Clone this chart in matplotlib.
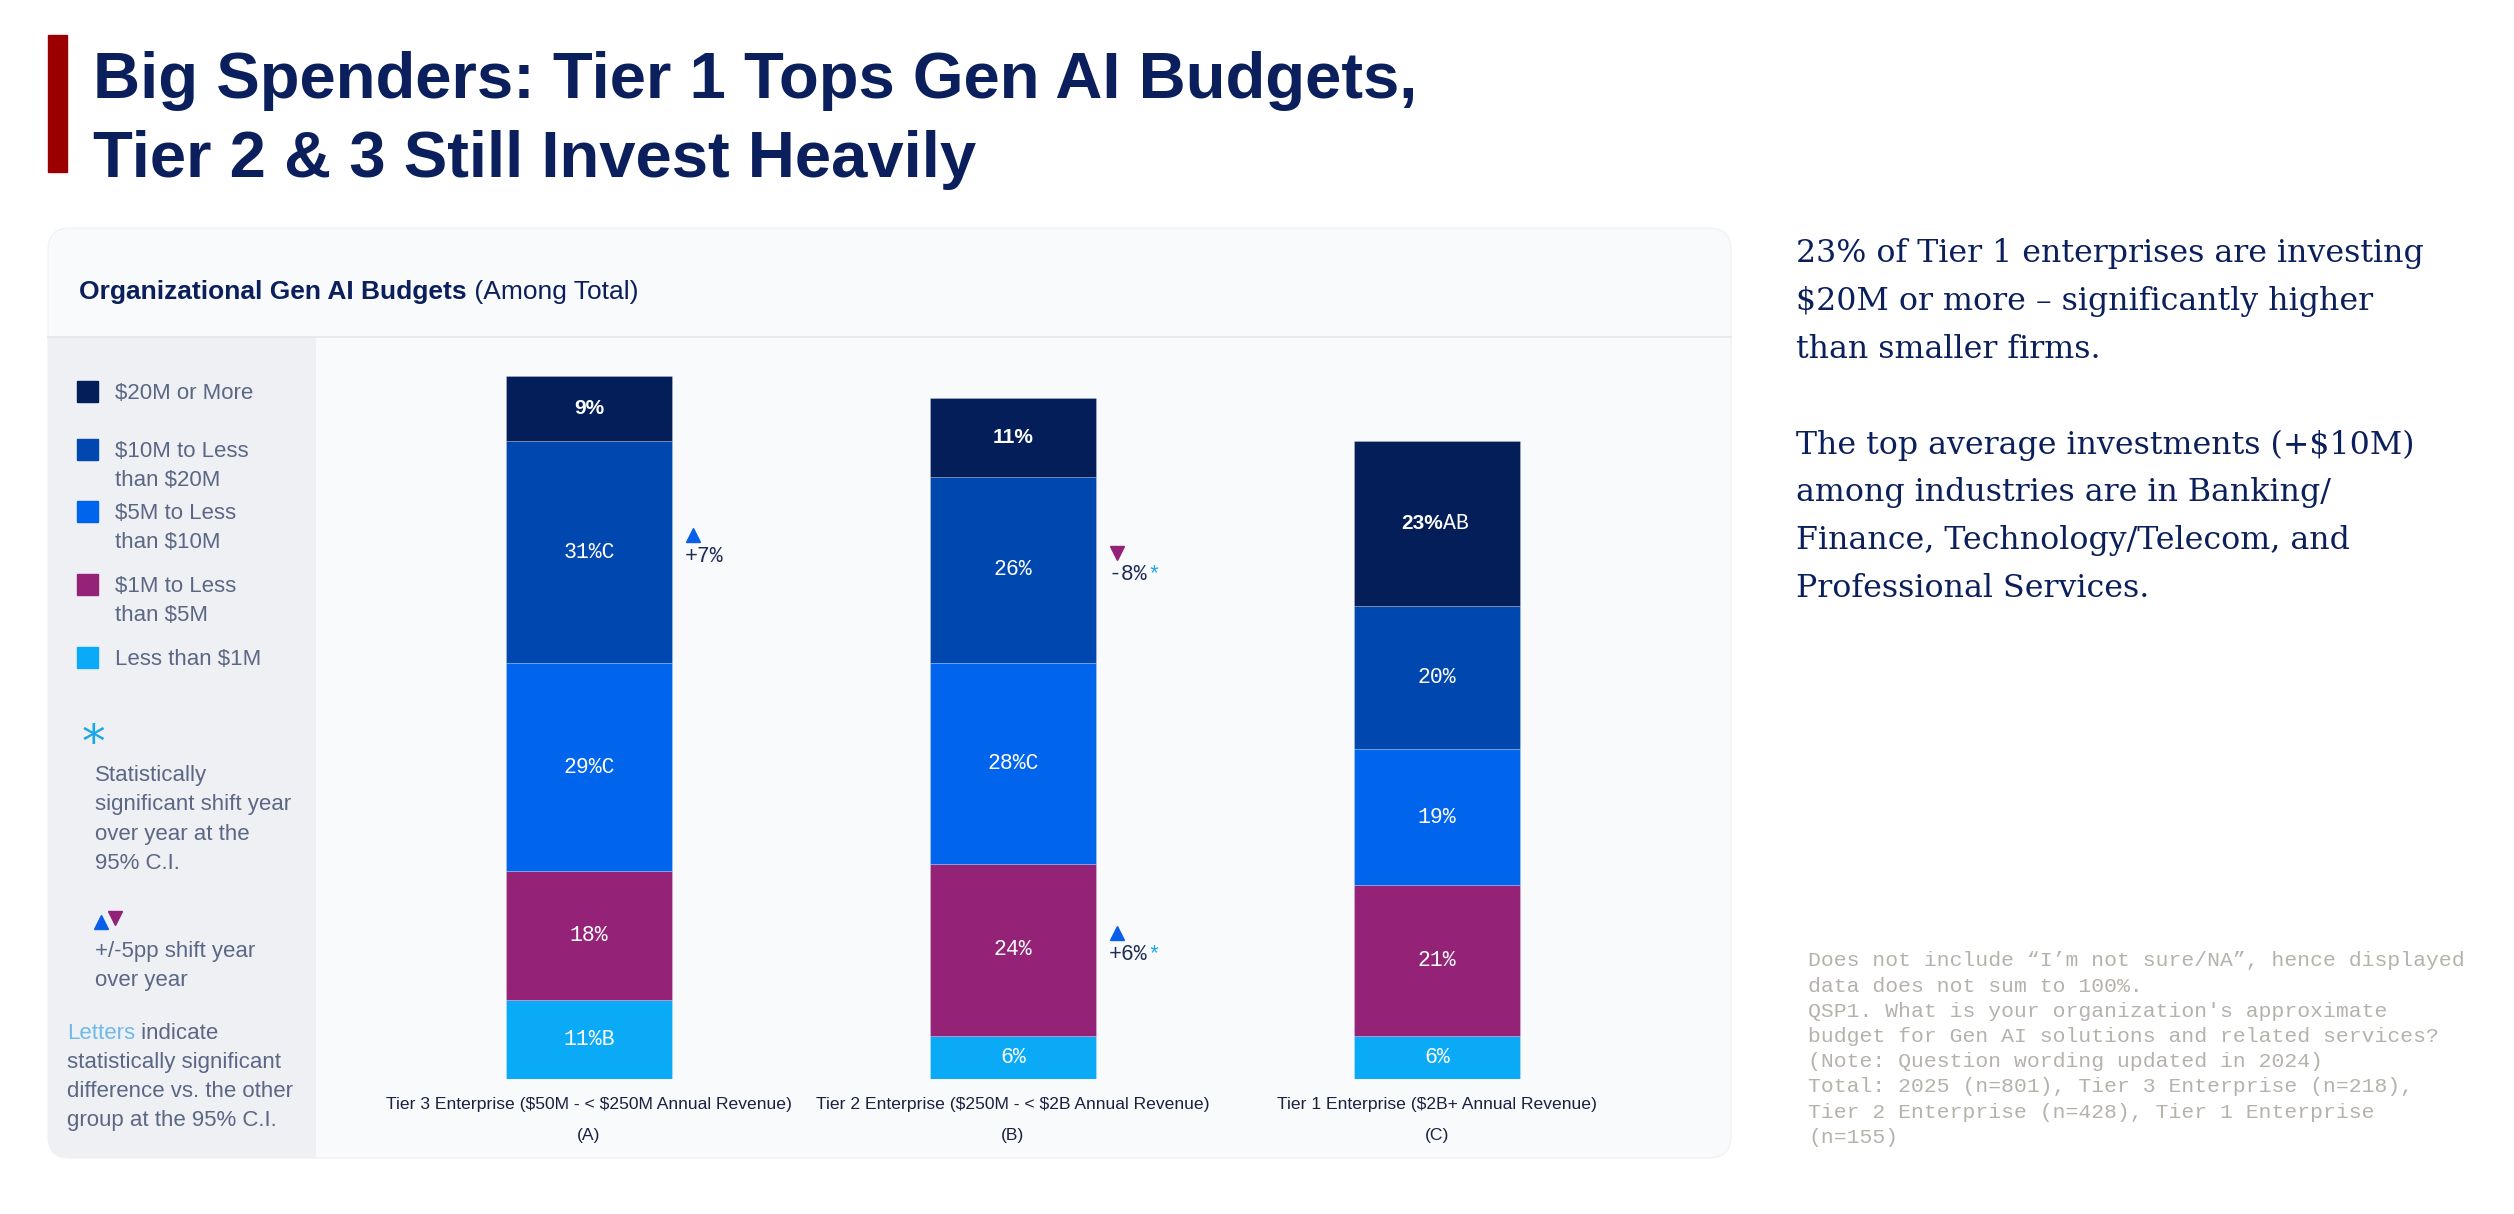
import matplotlib.pyplot as plt
from matplotlib.patches import FancyBboxPatch, Rectangle
from matplotlib.lines import Line2D
from matplotlib.transforms import Affine2D

plt.rcParams['text.parse_math'] = False  # lots of "$" in the labels

# --- data ---
tiers = ['Tier 3 Enterprise ($50M - < $250M Annual Revenue)\n(A)',
         'Tier 2 Enterprise ($250M - < $2B Annual Revenue)\n(B)',
         'Tier 1 Enterprise ($2B+ Annual Revenue)\n(C)']

# budget bands, bottom of the stack first
bands = ['Less than $1M', '$1M to Less\nthan $5M', '$5M to Less\nthan $10M',
         '$10M to Less\nthan $20M', '$20M or More']
band_colors = ['#0AAAF6', '#942276', '#0064EC', '#0048B0', '#041E5A']

under_1m = [11, 6, 6]
m1_to_5 = [18, 24, 21]
m5_to_10 = [29, 28, 19]
m10_to_20 = [31, 26, 20]
m20_plus = [9, 11, 23]
values = [under_1m, m1_to_5, m5_to_10, m10_to_20, m20_plus]

# significance letters (same layout as values)
letters = [['B', '', ''], ['', '', ''], ['C', 'C', ''], ['C', '', ''], ['', '', 'AB']]

# year over year shifts: (tier index, band index, text, up?, significant?)
shifts = [(0, 3, '+7%', True, False),
          (1, 3, '-8%', False, True),
          (1, 1, '+6%', True, True)]

summary = ('23% of Tier 1 enterprises are investing\n$20M or more \u2013 significantly higher\n'
           'than smaller firms.\n\nThe top average investments (+$10M)\namong industries are in Banking/\n'
           'Finance, Technology/Telecom, and\nProfessional Services.')
footnote = ('Does not include \u201cI\u2019m not sure/NA\u201d, hence displayed\n'
            'data does not sum to 100%.\n'
            "QSP1. What is your organization's approximate\n"
            'budget for Gen AI solutions and related services?\n'
            '(Note: Question wording updated in 2024)\n'
            'Total: 2025 (n=801), Tier 3 Enterprise (n=218),\n'
            'Tier 2 Enterprise (n=428), Tier 1 Enterprise\n(n=155)')

W, H = 2514, 1214
navy = '#0B1F5C'
legend_gray = '#5B6785'

fig = plt.figure(figsize=(W / 100, H / 100), dpi=100)
fig.patch.set_facecolor('white')
# pixel coords measured from the top-left corner
pix = Affine2D().scale(1 / W, -1 / H).translate(0, 1) + fig.transFigure


def put_lines(x, y, text, dy, **kw):
    # one text per line so every line sits where it should
    out = []
    for k, line in enumerate(text.split('\n')):
        if line:
            out.append(fig.text(x, y + k * dy, line, transform=pix, va='center_baseline', **kw))
    return out


# --- title ---
fig.add_artist(Rectangle((48, 35), 19, 137, transform=pix, color='#9B0000', zorder=2))
fig.text(93, 98, 'Big Spenders: Tier 1 Tops Gen AI Budgets,', transform=pix,
         family='Liberation Sans', weight='bold', fontsize=47, color=navy, va='baseline')
fig.text(93, 177, 'Tier 2 & 3 Still Invest Heavily', transform=pix,
         family='Liberation Sans', weight='bold', fontsize=47, color=navy, va='baseline')

# --- panel backgrounds ---
fig.add_artist(FancyBboxPatch((48, 228), 1683, 930, boxstyle='round,pad=0,rounding_size=22',
                              transform=pix, facecolor='#F9FAFB', edgecolor='#F1F2F4', lw=1, zorder=-2))
fig.add_artist(FancyBboxPatch((48, 337), 268, 821, boxstyle='round,pad=0,rounding_size=22',
                              transform=pix, facecolor='#EEF0F3', edgecolor='none', zorder=-1))
fig.add_artist(Rectangle((48, 337), 268, 40, transform=pix, facecolor='#EEF0F3', edgecolor='none', zorder=-1))
fig.add_artist(Rectangle((280, 337), 36, 821, transform=pix, facecolor='#EEF0F3', edgecolor='none', zorder=-1))
fig.add_artist(Line2D([48, 1731], [337, 337], transform=pix, color='#E4E6EA', lw=1.2, zorder=-1))

t1 = fig.text(79, 290, 'Organizational Gen AI Budgets', transform=pix, family='Liberation Sans',
              weight='bold', fontsize=19, color=navy, va='center_baseline')

# --- bars ---
ax = fig.add_axes([377 / W, (H - 1079) / H, (1649 - 377) / W, 717 / H])
ax.set_facecolor('none')
ax.set_xlim(-0.5, 2.5)
ax.set_ylim(0, 100)
for s in ax.spines.values():
    s.set_visible(False)
ax.set_yticks([])
x = list(range(len(tiers)))
bottom = [0, 0, 0]
centers = []
for b, vals in enumerate(values):
    ax.bar(x, vals, width=0.39, bottom=bottom, color=band_colors[b],
           edgecolor=(1, 1, 1, 0.25), linewidth=0.6)
    centers.append([bottom[i] + vals[i] / 2 for i in x])
    for i in x:
        yc = bottom[i] + vals[i] / 2
        if b == len(values) - 1:
            if letters[b][i]:
                ax.annotate(f'{vals[i]}%', (i, yc), xytext=(4, 0), textcoords='offset points',
                            ha='right', va='center', color='white', fontsize=15,
                            family='Liberation Sans', weight='bold')
                ax.annotate(letters[b][i], (i, yc), xytext=(4, 0), textcoords='offset points',
                            ha='left', va='center', color='white', fontsize=15.5, family='Liberation Mono')
            else:
                ax.text(i, yc, f'{vals[i]}%', ha='center', va='center', color='white',
                        fontsize=15, family='Liberation Sans', weight='bold')
        else:
            ax.text(i, yc, f'{vals[i]}%{letters[b][i]}', ha='center', va='center',
                    color='white', fontsize=15.5, family='Liberation Mono')
    bottom = [bottom[i] + vals[i] for i in x]

for i, b, txt, up, star in shifts:
    yc = centers[b][i] - 0.6
    ax.text(i + 0.226, yc, txt, ha='left', va='center', fontsize=15.5,
            family='Liberation Mono', color='#1E2B55')
    if star:
        ax.annotate('*', (i + 0.226, yc), xytext=(28, 0), textcoords='offset points',
                    ha='left', va='center', fontsize=15.5, color='#19A7EA', family='Liberation Mono')
    ax.plot(i + 0.245, yc + 3.0, marker='^' if up else 'v', ms=10, ls='none',
            color='#0A5FE8' if up else '#922277')

ax.set_xticks(x, tiers)
ax.tick_params(axis='x', length=0, pad=13, labelsize=12.6, labelcolor='#1A2140')
for lbl in ax.get_xticklabels():
    lbl.set_family('Liberation Sans')
    lbl.set_linespacing(2.35)

ax.annotate(' (Among Total)', xy=(1, 0), xycoords=t1, ha='left', va='bottom', fontsize=19,
            family='Liberation Sans', color=navy, annotation_clip=False)

# --- legend panel ---
legend_kw = dict(family='Liberation Sans', fontsize=16, color=legend_gray)
legend_y = [657, 584, 511, 449, 391]
for b in range(len(bands) - 1, -1, -1):
    y = legend_y[b]
    fig.add_artist(Rectangle((77, y - 10), 21, 21, transform=pix, color=band_colors[b], zorder=2))
    put_lines(115, y, bands[b], 29, **legend_kw)

fig.text(93, 744, '*', transform=pix, family='DejaVu Sans', fontsize=34, color='#19A7EA',
         ha='center', va='center')
put_lines(95, 773, 'Statistically\nsignificant shift year\nover year at the\n95% C.I.', 29.4, **legend_kw)
fig.add_artist(Line2D([101], [922], transform=pix, marker='^', ms=10, color='#0A5FE8', ls='none'))
fig.add_artist(Line2D([115], [918], transform=pix, marker='v', ms=10, color='#922277', ls='none'))
put_lines(95, 949, '+/-5pp shift year\nover year', 29.4, **legend_kw)
t2 = fig.text(67, 1031, 'Letters', transform=pix, va='center_baseline',
              family='Liberation Sans', fontsize=16, color='#6DBAEB')
ax.annotate(' indicate', xy=(1, 0), xycoords=t2, ha='left', va='bottom',
            annotation_clip=False, **legend_kw)
put_lines(67, 1060, 'statistically significant\ndifference vs. the other\ngroup at the 95% C.I.',
          28.8, **legend_kw)

# --- right side commentary ---
put_lines(1796, 250, summary, 47.9, family='DejaVu Serif', fontsize=22.8, color=navy)
put_lines(1808, 959, footnote, 25.2, family='Liberation Mono', fontsize=15.4, color='#B4B2AA')

plt.savefig('out.png', dpi=100)
